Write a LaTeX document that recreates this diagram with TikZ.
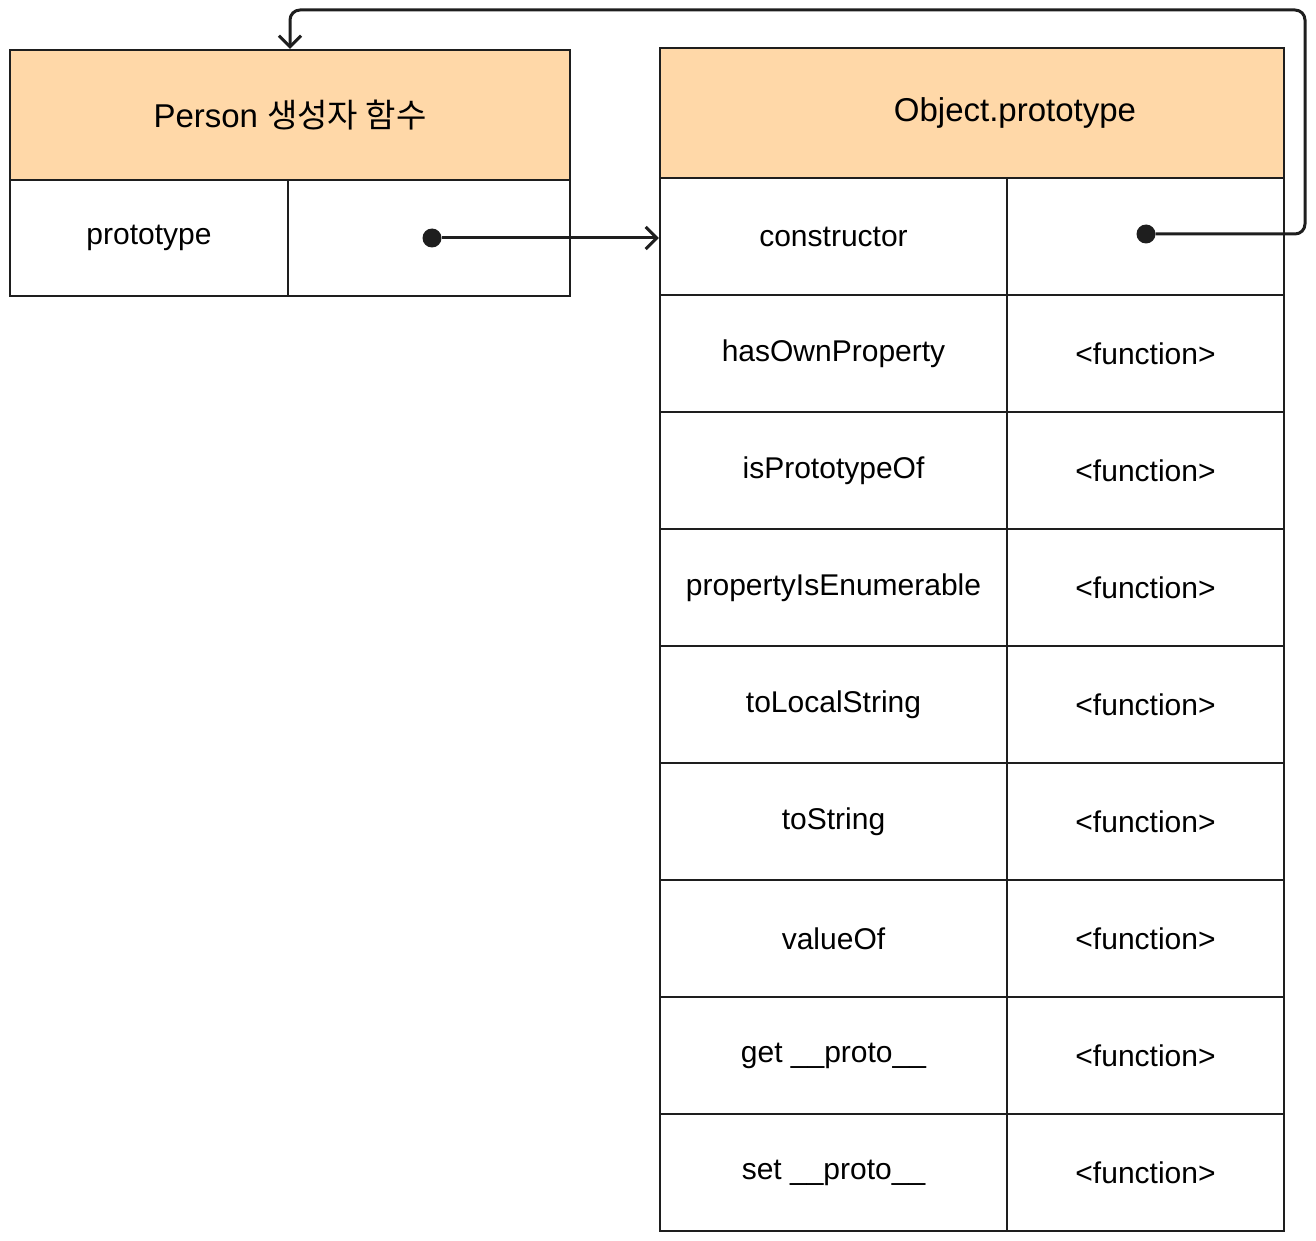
\documentclass[tikz,border=0pt]{standalone}
\usepackage{fontspec}
\setmainfont{Liberation Sans}
\newfontfamily\krfont{Noto Sans CJK KR}
\usetikzlibrary{positioning,arrows.meta}
\definecolor{hdr}{HTML}{FFD8A8}
\definecolor{ink}{HTML}{1E1E1E}
\tikzset{
  cell/.style={draw=ink,line width=2.4pt,inner sep=0pt,minimum height=117pt,font=\fontsize{30}{36}\selectfont},
  head/.style={cell,fill=hdr,minimum height=130pt,font=\fontsize{33}{40}\selectfont},
  dot/.style={circle,fill=ink,minimum size=19pt,inner sep=0pt},
  link/.style={draw=ink,line width=3pt,-{Straight Barb[length=11pt,width=22pt]}}
}
\begin{document}
\begin{tikzpicture}[x=1pt,y=-1pt]
\useasboundingbox (0,0) rectangle (1316,1241);
% Person box
\node[head,minimum width=560pt] (ph) at (290,115) {Person \krfont 생성자 함수};
\node[cell,minimum width=278pt,minimum height=116pt] (pk) at (149,238) {prototype};
\node[cell,minimum width=282pt,minimum height=116pt] (pv) at (429,238) {};
% Object.prototype box
\node[head,minimum width=624pt] (oh) at (972,113) {\hspace*{86pt}Object.prototype};
\foreach \i/\k/\v in {1/constructor/{},2/hasOwnProperty/<function>,3/isPrototypeOf/<function>,
  4/propertyIsEnumerable/<function>,5/toLocalString/<function>,6/toString/<function>,
  7/valueOf/<function>,8/get \_\_proto\_\_/<function>,9/set \_\_proto\_\_/<function>}
{
  \node[cell,minimum width=347pt] (k\i) at (833.5,178+117*\i-58.5) {\k};
  \node[cell,minimum width=277pt] (v\i) at (1145.5,178+117*\i-58.5) {\v};
}
% pointers
\node[dot] (d1) at (432,238) {};
\node[dot] (d2) at (1146,234) {};
\coordinate (turn) at (1305,10);
\draw[link] (d1.east) -- (d1.east -| k1.west);
\draw[link,rounded corners=10pt] (d2.east) -| (turn) -| (ph.north);
\end{tikzpicture}
\end{document}
